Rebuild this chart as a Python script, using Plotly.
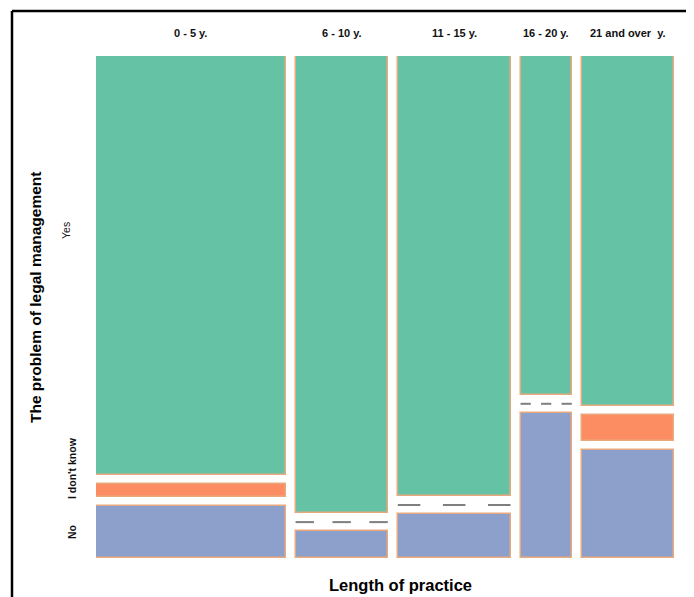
import plotly.graph_objects as go

# ---- data (counts read from the mosaic) ----
periods = ["0 - 5 y.", "6 - 10 y.", "11 - 15 y.", "16 - 20 y.", "21 and over  y."]
answers = ["Yes", "I don't know", "No"]
yes_counts = [32, 17, 20, 7, 13]
idk_counts = [1, 0, 0, 0, 1]
no_counts = [4, 1, 2, 3, 4]

colors = {"Yes": "#66C2A5", "I don't know": "#FC8D62", "No": "#8DA0CB"}
edge = "#E9A97F"

# page body has an 8px margin; figure is sized/positioned to compensate
OFF = 8
W, H = 694 - OFF, 597 - OFF
ml, mr, mt, mb = 96 - OFF, 20, 56 - OFF, 39
gap = 0.0186  # spacing between tiles, in fraction of the whole

col_tot = [y + i + n for y, i, n in zip(yes_counts, idk_counts, no_counts)]
N = sum(col_tot)
widths = [c / N for c in col_tot]
lefts = []
acc = 0.0
for w in widths:
    lefts.append(acc)
    acc += w + gap
x_max = acc - gap
centers = [l + w / 2 for l, w in zip(lefts, widths)]

# stacking from bottom: No, I don't know, Yes
stack = [("No", no_counts), ("I don't know", idk_counts), ("Yes", yes_counts)]
y_max = 1 + 2 * gap

fig = go.Figure()
zero_x, zero_y = [], []
for j in range(len(periods)):
    base = 0.0
    for name, vals in stack:
        p = vals[j] / col_tot[j]
        if p == 0:
            w = widths[j]
            for k in range(3):
                x0 = lefts[j] + k * 2 * w / 5
                zero_x += [x0, x0 + w / 5, None]
                zero_y += [base, base, None]
        base += p + gap

for name, vals in stack:
    xs, ys, bs, ws = [], [], [], []
    for j in range(len(periods)):
        below = 0.0
        for nm2, v2 in stack:
            if nm2 == name:
                break
            below += v2[j] / col_tot[j] + gap
        p = vals[j] / col_tot[j]
        if p > 0:
            xs.append(centers[j]); ys.append(p); bs.append(below); ws.append(widths[j])
    fig.add_trace(go.Bar(
        x=xs, y=ys, base=bs, width=ws, name=name,
        marker=dict(color=colors[name], line=dict(color=edge, width=1.5)),
        showlegend=False, hoverinfo="skip"))

fig.add_trace(go.Scatter(x=zero_x, y=zero_y, mode="lines",
                         line=dict(color="#7f7f7f", width=2),
                         showlegend=False, hoverinfo="skip"))

pw = W - ml - mr
ph = H - mt - mb

# helpers converting reference-image pixels to paper coords
def px_x(px):
    return (px - OFF - ml) / pw

def px_y(py):
    return (H - mb - (py - OFF)) / ph

FONT = "Liberation Sans, Arial, sans-serif"
ann = []
for c, lab in zip(centers, periods):
    ann.append(dict(x=c, xref="x", y=px_y(33), yref="paper", text=lab,
                    xanchor="center", yanchor="middle",
                    showarrow=False, font=dict(size=11, color="#111",
                    family=FONT, weight="bold")))
row_label_pos = {"Yes": (66, 231), "I don't know": (72, 468), "No": (72, 532)}
for a in answers:
    x0, y0 = row_label_pos[a]
    ann.append(dict(x=px_x(x0), xref="paper", y=px_y(y0), yref="paper", text=a,
                    xanchor="center", yanchor="middle",
                    textangle=-90, showarrow=False,
                    font=dict(size=10.5, color="#111", family=FONT,
                              weight="bold" if a != "Yes" else "normal")))
ann.append(dict(x=px_x(35), xref="paper", y=px_y(297), yref="paper",
                xanchor="center", yanchor="middle",
                text="The problem of legal management", textangle=-90, showarrow=False,
                font=dict(size=15.5, color="#000", family=FONT, weight="bold")))
ann.append(dict(x=px_x(400), xref="paper", y=px_y(585), yref="paper",
                xanchor="center", yanchor="middle",
                text="Length of practice", showarrow=False,
                font=dict(size=16.5, color="#000", family=FONT, weight="bold")))

shapes = [
    dict(type="line", xref="paper", yref="paper", x0=px_x(12), x1=px_x(700), y0=px_y(11), y1=px_y(11),
         line=dict(color="black", width=2.5)),
    dict(type="line", xref="paper", yref="paper", x0=px_x(12), x1=px_x(12), y0=px_y(11), y1=px_y(600),
         line=dict(color="black", width=2.5)),
]

fig.update_layout(
    width=W, height=H, margin=dict(l=ml, r=mr, t=mt, b=mb),
    paper_bgcolor="white", plot_bgcolor="white",
    barmode="overlay", bargap=0,
    xaxis=dict(range=[0, x_max], visible=False, fixedrange=True),
    yaxis=dict(range=[0, y_max], visible=False, fixedrange=True),
    annotations=ann, shapes=shapes,
)

fig.write_html("out.html")
